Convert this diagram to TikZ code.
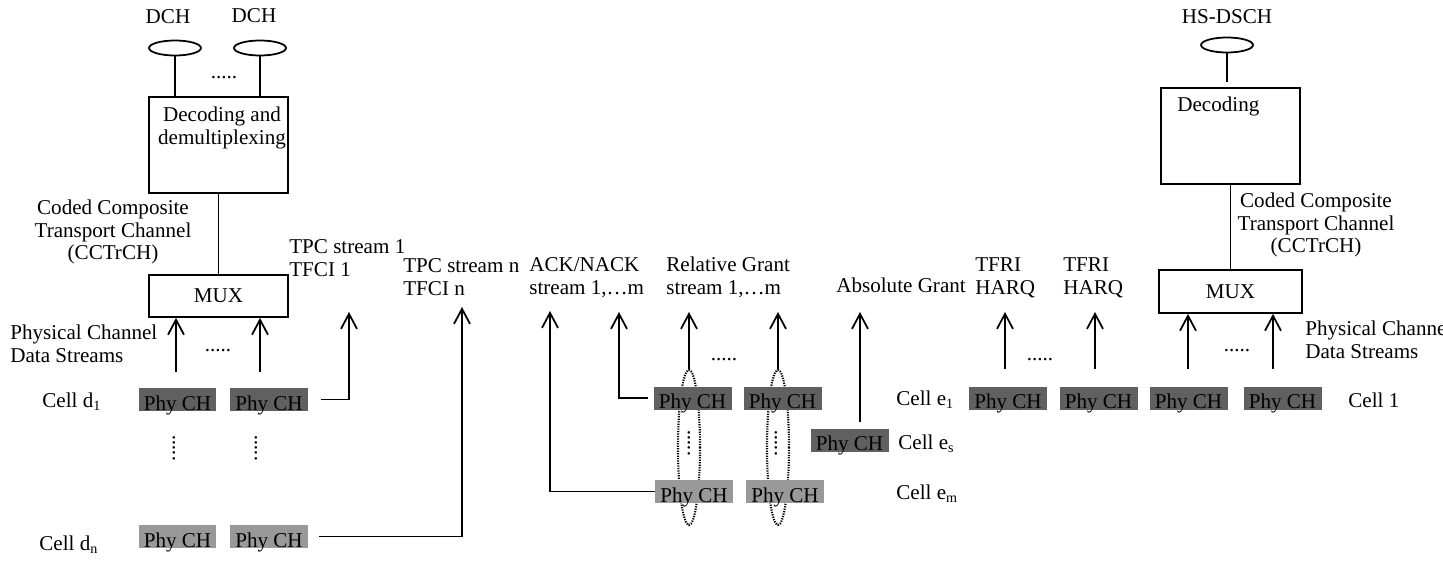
\documentclass[tikz,border=0pt]{standalone}
\usepackage{fontspec}
\setmainfont{Liberation Serif}
\usetikzlibrary{shapes.geometric, arrows.meta, calc}
\newcommand{\phyWidth}{15.6mm}
\newcommand{\phyHeight}{4.6mm}
\newcommand{\blockWidth}{27.8mm}
\newcommand{\arrowTip}{{Straight Barb[length=3mm, width=3.2mm]}}
\newcommand{\lineWidth}{1pt}
\definecolor{lineColor}{RGB}{0, 0, 0}
\definecolor{phyDark}{RGB}{96,96,96}
\definecolor{phyLight}{RGB}{153,153,153}
\tikzstyle{panel}=[draw=none, inner sep=0, outer sep=0]
\tikzstyle{phy}=[panel, fill=phyDark, minimum width=\phyWidth, minimum height=\phyHeight, text height=4.2mm, text depth=0pt]
\tikzstyle{phyLow}=[phy, fill=phyLight]
\tikzstyle{block}=[draw=lineColor, line width=\lineWidth, inner sep=0, minimum width=\blockWidth]
\tikzstyle{trch}=[draw=lineColor, ellipse, line width=\lineWidth, minimum width=10.4mm, minimum height=3mm, inner sep=0]
\tikzstyle{ring}=[draw=lineColor, ellipse, line width=1.2pt, dash pattern=on 0.7pt off 0.7pt, minimum width=4.4mm, minimum height=31mm, inner sep=0]
\tikzstyle{line}=[draw=lineColor, line width=\lineWidth]
\tikzstyle{arrow}=[line, -\arrowTip]
\tikzstyle{textNode}=[draw=none, inner sep=0, align=left]
\begin{document}
\begin{tikzpicture}[x=0.02cm, y=-0.02cm, font=\fontsize{12}{13}\selectfont]

% Frame
\useasboundingbox (0,0) rectangle (1443,561);

% Dotted groups (behind the boxes)
\node[ring] (ringA) at (689,447.5) {};
\node[ring] (ringB) at (778,447.5) {};

% DCH side
\node[textNode] (dchLabA) at (168,17) {DCH};
\node[textNode] (dchLabB) at (254,16) {DCH};
\node[trch] (dchA) at (175,48) {};
\node[trch] (dchB) at (260,48) {};
\node[textNode] (dotsDch) at (224,78) {.....};
\node[block, minimum height=19.2mm] (decA) at (218.5,145) {};
\node[textNode, align=center, anchor=north] (decAText) at (222,107) {Decoding and\\demultiplexing};
\node[block, minimum height=8.4mm] (muxA) at (218.5,296) {MUX};
\node[textNode, align=center] (cctrchA) at (113,232) {Coded Composite\\Transport Channel\\(CCTrCH)};
\node[textNode, anchor=west] (pcdsA) at (10,344) {Physical Channel\\Data Streams};
\draw[line] (dchA) -- (dchA |- decA.north);
\draw[line] (dchB) -- (dchB |- decA.north);
\draw[line] (decA) -- (muxA);

% Cells d
\node[phy] (phyD1a) at (177.5,399.5) {Phy CH};
\node[phy] (phyD1b) at (269,399.5) {Phy CH};
\node[phyLow] (phyDna) at (177.5,536.5) {Phy CH};
\node[phyLow] (phyDnb) at (269,536.5) {Phy CH};
\node[textNode, anchor=west] (cellD1) at (42,402) {Cell d\textsubscript{1}};
\node[textNode, anchor=west] (cellDn) at (39,545) {Cell d\textsubscript{n}};
\node[textNode, rotate=90] (vdotsA) at (174,448) {.....};
\node[textNode, rotate=90] (vdotsB) at (256,448) {.....};
\node[textNode] (dotsInA) at (218,351) {.....};
\coordinate (inA1) at (176,372);
\coordinate (inA2) at (260,372);
\draw[arrow] (inA1) -- (inA1 |- muxA.south);
\draw[arrow] (inA2) -- (inA2 |- muxA.south);

% TPC / TFCI
\node[textNode, anchor=west] (tpc1) at (289,258) {TPC stream 1\\TFCI 1};
\node[textNode, anchor=west] (tpcn) at (403,277.5) {TPC stream n\\TFCI n};
\coordinate (tpc1Tip) at (349,312);
\coordinate (tpcnTip) at (462,307);
\draw[arrow] ([xshift=2.6mm]phyD1b.east) -| (tpc1Tip);
\draw[arrow] ([xshift=2.2mm]phyDnb.east) -| (tpcnTip);

% ACK/NACK and grants
\node[textNode, anchor=west] (ackLab) at (529,277.5) {ACK/NACK\\stream 1,\ldots m};
\node[textNode, anchor=west] (rgLab) at (666,277.5) {Relative Grant\\stream 1,\ldots m};
\node[textNode, anchor=west] (agLab) at (836,285) {Absolute Grant};
\node[phy] (phyE1a) at (692.5,398) {Phy CH};
\node[phy] (phyE1b) at (782.5,398) {Phy CH};
\node[phyLow] (phyEma) at (694,491.5) {Phy CH};
\node[phyLow] (phyEmb) at (785,491.5) {Phy CH};
\node[phy] (phyEs) at (849.5,440) {Phy CH};
\node[textNode, rotate=90] (vdotsC) at (689,443) {.....};
\node[textNode, rotate=90] (vdotsD) at (776,443) {.....};
\node[textNode] (dotsRg) at (724,360) {.....};
\node[textNode, anchor=west] (cellE1) at (896,400) {Cell e\textsubscript{1}};
\node[textNode, anchor=west] (cellEs) at (898,444) {Cell e\textsubscript{s}};
\node[textNode, anchor=west] (cellEm) at (896,494) {Cell e\textsubscript{m}};
\coordinate (ackTipA) at (550,311);
\coordinate (ackTipB) at (619,312);
\coordinate (rgTipA) at (689,312);
\coordinate (rgTipB) at (778,312);
\coordinate (agStart) at (860,422);
\coordinate (agTip) at (860,312);
\draw[arrow] (phyEma.west) -| (ackTipA);
\draw[arrow] ([xshift=-1.2mm]phyE1a.west) -| (ackTipB);
\draw[arrow] (ringA.north) -- (rgTipA);
\draw[arrow] (ringB.north) -- (rgTipB);
\draw[arrow] (agStart) -- (agTip);

% TFRI / HARQ
\node[textNode, anchor=west] (tfriA) at (975,277.5) {TFRI\\HARQ};
\node[textNode, anchor=west] (tfriB) at (1063,277.5) {TFRI\\HARQ};
\node[phy] (phyC1a) at (1008,398) {Phy CH};
\node[phy] (phyC1b) at (1098.5,398) {Phy CH};
\node[textNode] (dotsTfri) at (1040,360) {.....};
\coordinate (tfriStartA) at (1005,369);
\coordinate (tfriStartB) at (1095,369);
\coordinate (tfriTipA) at (1005,312);
\coordinate (tfriTipB) at (1095,312);
\draw[arrow] (tfriStartA) -- (tfriTipA);
\draw[arrow] (tfriStartB) -- (tfriTipB);

% HS-DSCH side
\node[textNode] (hsLab) at (1227,17) {HS-DSCH};
\node[trch] (hsdsch) at (1227,45) {};
\node[block, minimum height=19.2mm] (decB) at (1230.5,136) {};
\node[textNode, anchor=north west] (decBText) at (1177,97) {Decoding};
\node[block, minimum width=28.6mm, minimum height=8.6mm] (muxB) at (1230.5,291.5) {MUX};
\node[textNode, align=center] (cctrchB) at (1316,225) {Coded Composite\\Transport Channel\\(CCTrCH)};
\node[textNode, anchor=west] (pcdsB) at (1305,339.5) {Physical Channel\\Data Streams};
\draw[line, shorten >=1mm] (hsdsch) -- (hsdsch |- decB.north);
\draw[line] (decB) -- (muxB);
\node[phy] (phyC1c) at (1188.5,398) {Phy CH};
\node[phy] (phyC1d) at (1282.5,398) {Phy CH};
\node[textNode] (dotsInB) at (1237,351) {.....};
\node[textNode, anchor=west] (cell1) at (1348,400) {Cell 1};
\coordinate (inB1) at (1188,369);
\coordinate (inB2) at (1273,369);
\draw[arrow] (inB1) -- (inB1 |- muxB.south);
\draw[arrow] (inB2) -- (inB2 |- muxB.south);

\end{tikzpicture}
\end{document}
